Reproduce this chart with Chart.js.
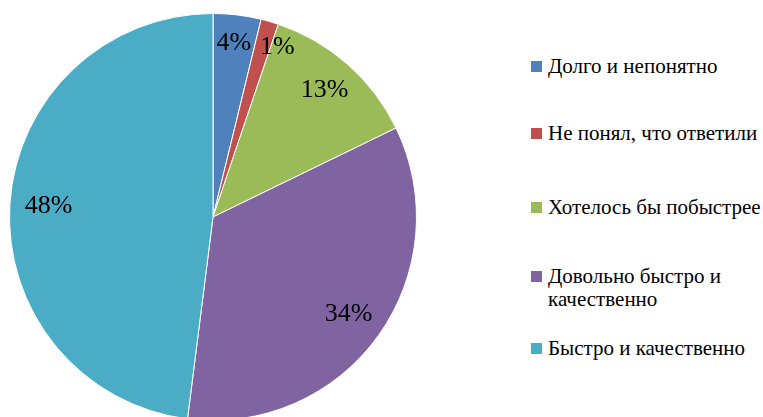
<!DOCTYPE html>
<html>
<head>
<meta charset="utf-8">
<script src="https://cdn.jsdelivr.net/npm/chart.js@4"></script>
<style>
    html, body { margin: 0; padding: 0; background: #fff; overflow: hidden; }
    body { width: 763px; height: 417px; position: relative; }
    #pieBox { position: absolute; left: 9px; top: 13px; width: 408px; height: 408px; }
    #legend { position: absolute; left: 531px; top: 0; font-family: 'Liberation Serif', serif; font-size: 21px; color: #000; }
    .item { position: absolute; left: 0; width: 232px; line-height: 23px; padding-left: 17px; white-space: nowrap; }
    .item span.box { position: absolute; left: 0; top: 6px; width: 11px; height: 11px; }
</style>
</head>
<body>
<div id="pieBox"><canvas id="pie"></canvas></div>
<div id="legend"></div>
<script>
const categories = ["Долго и непонятно", "Не понял, что ответили", "Хотелось бы побыстрее", "Довольно быстро и качественно", "Быстро и качественно"];
const shares = [3.8, 1.4, 12.6, 34.2, 48.0];
const colors = ['#4F81BD', '#C0504D', '#9BBB59', '#8064A2', '#4BACC6'];

// legend lines (wrapped like the original) and top offsets
const legendLines = [["Долго и непонятно"], ["Не понял, что ответили"], ["Хотелось бы побыстрее"], ["Довольно быстро и", "качественно"], ["Быстро и качественно"]];
const legendTops = [55, 122, 196, 265, 337];

// where each percentage sits, as fraction of radius, plus small angle nudge
const labelRadius = [0.86, 0.89, 0.83, 0.82, 0.81];
const labelNudge = [0, 0.08, 0, 0, 0];

const pctLabels = {
    id: 'pctLabels',
    afterDatasetsDraw(chart) {
        const ctx = chart.ctx;
        const total = shares.reduce((a, b) => a + b, 0);
        ctx.save();
        ctx.font = "26px 'Liberation Serif', serif";
        ctx.fillStyle = '#000';
        ctx.textAlign = 'center';
        ctx.textBaseline = 'middle';
        chart.getDatasetMeta(0).data.forEach((arc, i) => {
            const p = arc.getProps(['x', 'y', 'startAngle', 'endAngle', 'outerRadius'], true);
            const a = (p.startAngle + p.endAngle) / 2 + labelNudge[i];
            const r = p.outerRadius * labelRadius[i];
            ctx.fillText(Math.round(shares[i] / total * 100) + '%', p.x + Math.cos(a) * r, p.y + Math.sin(a) * r);
        });
        ctx.restore();
    }
};

function draw() {
    new Chart(document.getElementById('pie'), {
        type: 'pie',
        data: {
            labels: categories,
            datasets: [{
                data: shares,
                backgroundColor: colors,
                borderColor: '#ffffff',
                borderWidth: 1
            }]
        },
        options: {
            responsive: true,
            maintainAspectRatio: false,
            animation: false,
            layout: { padding: 0 },
            plugins: {
                legend: { display: false },
                tooltip: { enabled: false }
            }
        },
        plugins: [pctLabels]
    });

    const legend = document.getElementById('legend');
    categories.forEach((c, i) => {
        const div = document.createElement('div');
        div.className = 'item';
        div.style.top = legendTops[i] + 'px';
        div.innerHTML = '<span class="box" style="background:' + colors[i] + '"></span>' +
            legendLines[i].join('<br>');
        legend.appendChild(div);
    });
}

document.fonts.load("26px 'Liberation Serif'").then(draw, draw);
</script>
</body>
</html>
